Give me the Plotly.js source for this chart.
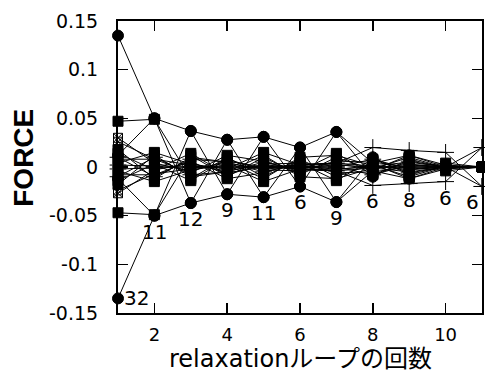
<!DOCTYPE html>
<html>
<head>
<meta charset="utf-8">
<script src="https://cdn.plot.ly/plotly-3.0.1.min.js"></script>
<style>html,body{margin:0;padding:0;background:#fff;}#chart{width:485px;height:374px;}</style>
</head>
<body>
<div id="chart"></div>
<script>
// relaxation loop count
const loops = [1, 2, 3, 4, 5, 6, 7, 8, 9, 10, 11];
// count labels shown under each loop
const countLabels = ["32", "11", "12", "9", "11", "6", "9", "6", "8", "6", "6"];

// filled-circle series
const circ1 = [0.135, 0.050, 0.037, 0.028, 0.031, 0.020, 0.036, 0.004, 0.012, 0.002, 0.000];
const circ2 = [-0.135, -0.050, -0.037, -0.028, -0.031, -0.020, -0.036, -0.004, -0.012, -0.002, 0.000];
const circ3 = [0.012, 0.050, -0.037, 0.028, -0.031, 0.020, -0.036, 0.010, -0.008, 0.001, 0.000];
const circ4 = [-0.012, -0.050, 0.037, -0.028, 0.031, -0.020, 0.036, -0.010, 0.008, -0.001, 0.000];
// filled-square series
const sq1 = [0.047, 0.049, -0.012, 0.010, -0.010, 0.008, -0.010, 0.003, -0.012, 0.000, 0.000];
const sq2 = [-0.047, -0.049, 0.012, -0.010, 0.010, -0.008, 0.010, -0.003, 0.012, 0.000, 0.000];
const sq3 = [0.018, -0.012, 0.010, 0.005, -0.012, 0.010, 0.012, 0.001, 0.005, 0.000, 0.000];
const sq4 = [-0.018, 0.012, -0.010, -0.005, 0.012, -0.010, -0.012, -0.001, -0.005, 0.000, 0.000];
const sq5 = [0.008, 0.008, -0.006, 0.012, 0.006, -0.005, 0.006, 0.005, 0.000, 0.004, 0.000];
const sq6 = [-0.008, -0.008, 0.006, -0.012, -0.006, 0.005, -0.006, -0.005, 0.000, -0.004, 0.000];
const sq7 = [0.004, 0.015, 0.003, -0.002, 0.015, 0.002, 0.003, -0.002, 0.010, -0.001, 0.000];
const sq8 = [-0.004, -0.015, -0.003, 0.002, -0.015, -0.002, -0.003, 0.002, -0.010, 0.001, 0.000];
const sq9 = [0.014, -0.003, 0.014, -0.008, 0.003, 0.004, -0.014, 0.008, -0.002, 0.000, 0.000];
const sq10 = [-0.014, 0.003, -0.014, 0.008, -0.003, -0.004, 0.014, -0.008, 0.002, 0.000, 0.000];
// crossed-square series
const xsq1 = [0.030, 0.004, -0.004, 0.006, 0.000, 0.002, 0.004, 0.001, -0.003, 0.000, 0.000];
const xsq2 = [-0.027, -0.003, 0.004, -0.006, 0.000, -0.002, -0.004, -0.001, 0.003, 0.000, 0.000];
const xsq3 = [0.026, 0.008, 0.002, -0.004, 0.002, 0.000, 0.002, 0.000, 0.001, 0.000, 0.000];
const xsq4 = [-0.024, -0.007, -0.002, 0.004, -0.002, 0.000, -0.002, 0.000, -0.001, 0.000, 0.000];
// plus series
const pl1 = [0.010, -0.010, 0.008, 0.005, -0.005, 0.003, 0.004, 0.020, 0.017, 0.015, -0.020];
const pl2 = [-0.010, 0.010, -0.008, -0.005, 0.005, -0.003, -0.004, -0.019, -0.017, -0.015, 0.020];
const pl3 = [0.002, 0.001, 0.000, 0.001, 0.000, 0.001, 0.000, 0.008, -0.006, 0.000, 0.020];
const pl4 = [-0.002, -0.001, 0.000, -0.001, 0.000, -0.001, 0.000, -0.008, 0.006, 0.000, -0.020];

const yTickVals = [-0.15, -0.1, -0.05, 0, 0.05, 0.1, 0.15];
const yTickText = ["-0.15", "-0.1", "-0.05", "0", "0.05", "0.1", "0.15"];
const xTickVals = [2, 4, 6, 8, 10];

const groups = [
  {sets: [pl1, pl2, pl3, pl4], symbol: "cross-thin-open", size: 12},
  {sets: [xsq1, xsq2, xsq3, xsq4], symbol: "square-x-open", size: 9},
  {sets: [sq1, sq2, sq3, sq4, sq5, sq6, sq7, sq8, sq9, sq10], symbol: "square", size: 10},
  {sets: [circ1, circ2, circ3, circ4], symbol: "circle", size: 11}
];

const traces = [];
groups.forEach(g => {
  g.sets.forEach(ys => {
    traces.push({
      x: loops, y: ys, type: "scatter", mode: "lines+markers",
      line: {color: "#000", width: 1},
      marker: {symbol: g.symbol, size: g.size, color: "#000", line: {color: "#000", width: 1}},
      cliponaxis: false, showlegend: false, hoverinfo: "skip"
    });
  });
});

const allSets = groups.flatMap(g => g.sets);
const annotations = loops.map((x, i) => {
  const mn = Math.min(...allSets.map(s => s[i]));
  const first = i === 0;
  const last = i === loops.length - 1;
  return {
    x: x, y: mn, xref: "x", yref: "y", text: countLabels[i], showarrow: false,
    font: {family: "DejaVu Sans", size: 20, color: "#000"},
    xanchor: first ? "left" : "center",
    yanchor: first ? "middle" : "top",
    xshift: first ? 4 : (last ? -10 : 0),
    yshift: first ? 0 : -2
  };
});

annotations.push({
  text: "<b>FORCE</b>", xref: "paper", yref: "paper",
  x: -0.258, y: 0.532, xanchor: "center", yanchor: "middle",
  textangle: -90, showarrow: false,
  font: {family: "Liberation Sans", size: 28, color: "#000"}
});
annotations.push({
  text: "relaxationループの回数", xref: "paper", yref: "paper",
  x: 0.5, y: -0.1575, xanchor: "center", yanchor: "middle",
  showarrow: false,
  font: {family: "DejaVu Sans, Noto Sans CJK JP", size: 24, color: "#000"}
});

const layout = {
  width: 485, height: 374,
  margin: {l: 118, r: 3, t: 21, b: 61},
  paper_bgcolor: "#fff", plot_bgcolor: "#fff",
  showlegend: false,
  xaxis: {
    range: [1, 11], tickvals: xTickVals, ticktext: xTickVals.map(String),
    ticks: "inside", ticklen: 10, tickwidth: 1.5, tickcolor: "#000",
    showline: true, linewidth: 2, linecolor: "#000", mirror: "ticks",
    showgrid: false, zeroline: false,
    tickfont: {family: "DejaVu Sans", size: 18, color: "#000"},
    ticklabelstandoff: 4
  },
  yaxis: {
    range: [-0.15, 0.15], tickvals: yTickVals, ticktext: yTickText,
    ticks: "inside", ticklen: 10, tickwidth: 1.5, tickcolor: "#000",
    showline: true, linewidth: 2, linecolor: "#000", mirror: "ticks",
    showgrid: false, zeroline: false,
    tickfont: {family: "DejaVu Sans", size: 19, color: "#000"},
    ticklabelstandoff: 14
  },
  annotations: annotations
};

Plotly.newPlot("chart", traces, layout, {staticPlot: true, displayModeBar: false});
</script>
</body>
</html>
